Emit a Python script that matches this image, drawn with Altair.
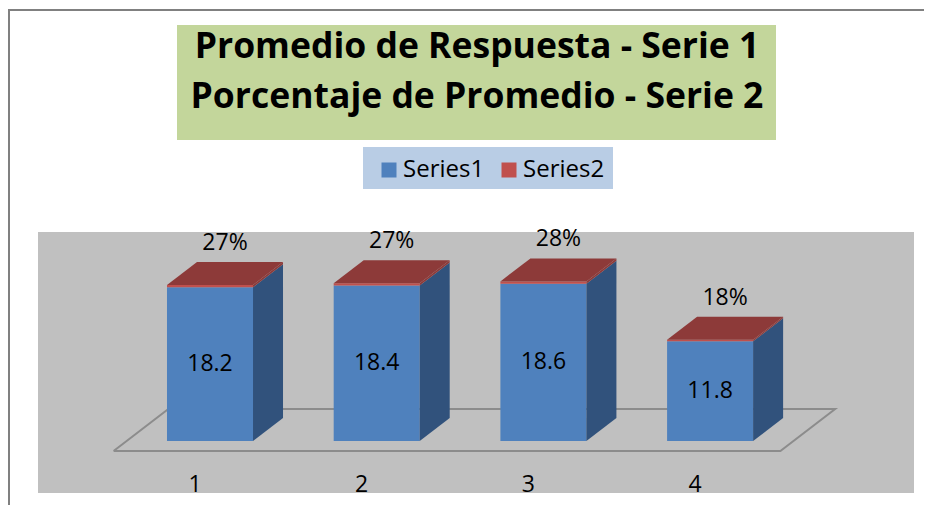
import altair as alt
import pandas as pd

# ---- data ----
categories = ["1", "2", "3", "4"]
series1 = [18.2, 18.4, 18.6, 11.8]
series2 = [0.27, 0.27, 0.28, 0.18]
series2_labels = ["27%", "27%", "28%", "18%"]
series_names = ["Series1", "Series2"]
title_lines = ["Promedio de Respuesta - Serie 1", "Porcentaje de Promedio - Serie 2"]

# ---- geometry / style constants ----
W, H = 916, 497
HW = 0.258          # half bar width (category units)
DX, DY = 0.18, 2.72  # 3-D depth offset of a bar (x units, y units)
FONT = "Open Sans"

BLUE, BLUE_SIDE = "#4F81BD", "#31527C"
RED, RED_TOP = "#C0504D", "#8D3A39"

xs = alt.Scale(domain=[-0.2118, 5.2832], nice=False, zero=False)
ys = alt.Scale(domain=[-7.574, 51.24], nice=False, zero=False)

# ---- tables built from the arrays ----
bars, side, top, lab1, lab2, cat = [], [], [], [], [], []
for i, (c, a, b, pl) in enumerate(zip(categories, series1, series2, series2_labels)):
    idx = i + 1
    total = a + b
    xl, xr = idx - HW, idx + HW
    for s, st, en in ((series_names[0], 0.0, a), (series_names[1], a, total)):
        bars.append(dict(cat=c, series=s, xl=xl, xr=xr, start=st, end=en))
        for z in (0, 1):
            side.append(dict(cat=c, series=s, x=xr + z * DX, y=st + z * DY, y2=en + z * DY))
    for z in (0, 1):
        top.append(dict(cat=c, y=total + z * DY, x=xl + z * DX, x2=xr + z * DX))
    lab1.append(dict(cat=c, x=idx, y=a / 2, text=f"{a}"))
    lab2.append(dict(cat=c, x=idx + DX / 2, y=total + DY + 2.25, text=pl))
    cat.append(dict(cat=c, x=idx - 0.09))

bars, side, top = pd.DataFrame(bars), pd.DataFrame(side), pd.DataFrame(top)
lab1, lab2, cat = pd.DataFrame(lab1), pd.DataFrame(lab2), pd.DataFrame(cat)

zf0, zf1 = -0.435, 1.39
x0, x1 = 0.5, len(categories) + 0.5
floor = pd.DataFrame([
    dict(o=0, x=x0 + zf0 * DX, y=zf0 * DY),
    dict(o=1, x=x1 + zf0 * DX, y=zf0 * DY),
    dict(o=2, x=x1 + zf1 * DX, y=zf1 * DY),
    dict(o=3, x=x0 + zf1 * DX, y=zf1 * DY),
    dict(o=4, x=x0 + zf0 * DX, y=zf0 * DY),
])

one = pd.DataFrame({"a": [0]})

# ---- decorations ----
border_left = alt.Chart(one).mark_rule(color="#808080", strokeWidth=2).encode(
    x=alt.value(1), y=alt.value(1), y2=alt.value(H))
border_top = alt.Chart(one).mark_rule(color="#808080", strokeWidth=2).encode(
    x=alt.value(1), x2=alt.value(W), y=alt.value(2))
plot_bg = alt.Chart(one).mark_rect(color="#C0C0C0").encode(
    x=alt.value(30), x2=alt.value(906), y=alt.value(224), y2=alt.value(485))
title_bg = alt.Chart(one).mark_rect(color="#C3D69B").encode(
    x=alt.value(169), x2=alt.value(768), y=alt.value(17), y2=alt.value(132))
title_df = pd.DataFrame({"t": title_lines, "k": [0, 1]})
title_txt = alt.Chart(title_df).mark_text(
    font=FONT, fontWeight="bold", fontSize=35.5, color="black", align="center", baseline="alphabetic"
).encode(
    x=alt.value(469),
    y=alt.Y("k:Q", scale=alt.Scale(domain=[0, 1], range=[50, 100]), axis=None),
    text="t:N")
legend_bg = alt.Chart(one).mark_rect(color="#B9CDE5").encode(
    x=alt.value(355), x2=alt.value(605), y=alt.value(139), y2=alt.value(181))

# ---- chart marks ----
floor_line = alt.Chart(floor).mark_line(color="#8C8C8C", strokeWidth=2).encode(
    x=alt.X("x:Q", scale=xs, axis=None),
    y=alt.Y("y:Q", scale=ys, axis=None),
    order="o:Q")

front = alt.Chart(bars).mark_rect().encode(
    x=alt.X("xl:Q", scale=xs, axis=None), x2="xr:Q",
    y=alt.Y("start:Q", scale=ys, axis=None), y2="end:Q",
    color=alt.Color("series:N",
                    scale=alt.Scale(domain=series_names, range=[BLUE, RED]),
                    legend=alt.Legend(orient="none", legendX=369, legendY=150, direction="horizontal",
                                      title=None, symbolType="square", symbolSize=225,
                                      symbolStrokeWidth=0, labelFont=FONT, labelFontSize=24,
                                      labelColor="black", labelOffset=2, columnPadding=12)))

side_blue = alt.Chart(side).transform_filter(alt.datum.series == series_names[0]).mark_area(
    orient="vertical", color=BLUE_SIDE).encode(
    x=alt.X("x:Q", scale=xs, axis=None),
    y=alt.Y("y:Q", scale=ys, axis=None, stack=None), y2="y2:Q",
    detail="cat:N")
side_red = alt.Chart(side).transform_filter(alt.datum.series == series_names[1]).mark_area(
    orient="vertical", color=RED_TOP).encode(
    x=alt.X("x:Q", scale=xs, axis=None),
    y=alt.Y("y:Q", scale=ys, axis=None, stack=None), y2="y2:Q",
    detail="cat:N")
top_face = alt.Chart(top).mark_area(orient="horizontal", color=RED_TOP).encode(
    y=alt.Y("y:Q", scale=ys, axis=None),
    x=alt.X("x:Q", scale=xs, axis=None, stack=None), x2="x2:Q",
    detail="cat:N")

val_labels = alt.Chart(lab1).mark_text(font=FONT, fontSize=23, color="black", baseline="middle").encode(
    x=alt.X("x:Q", scale=xs, axis=None), y=alt.Y("y:Q", scale=ys, axis=None), text="text:N")
pct_labels = alt.Chart(lab2).mark_text(font=FONT, fontSize=23, color="black", baseline="middle").encode(
    x=alt.X("x:Q", scale=xs, axis=None), y=alt.Y("y:Q", scale=ys, axis=None), text="text:N")
cat_labels = alt.Chart(cat).mark_text(font=FONT, fontSize=23, color="black", baseline="top").encode(
    x=alt.X("x:Q", scale=xs, axis=None), y=alt.value(466), text="cat:N")

chart = alt.layer(
    border_left, border_top, plot_bg, title_bg, title_txt, legend_bg,
    floor_line, front, side_blue, side_red, top_face,
    val_labels, pct_labels, cat_labels,
).resolve_scale(y="independent").properties(
    width=W, height=H, autosize=alt.AutoSizeParams(type="none"), padding=0,
    background="white",
).configure_view(stroke=None)

chart.save("out.html", embed_options={"renderer": "svg", "actions": False})
